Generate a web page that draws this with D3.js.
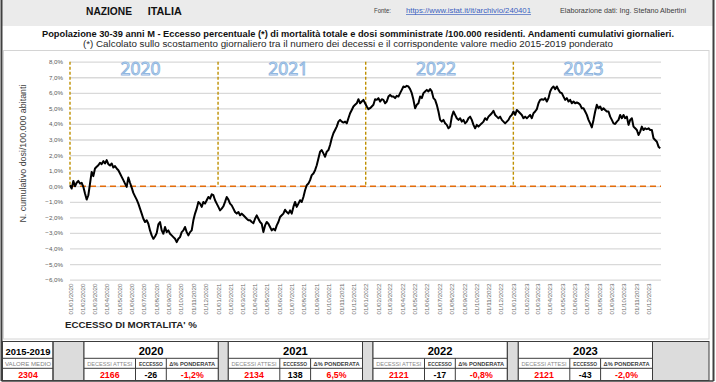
<!DOCTYPE html>
<html><head><meta charset="utf-8">
<script src="https://cdn.jsdelivr.net/npm/d3@7"></script>
<style>body{margin:0;background:#fff}svg{display:block}</style>
</head><body>
<svg id="c" width="716" height="382"></svg>
<script>
// ---------------- DATA ----------------
const yearLabels = ["2020", "2021", "2022", "2023"];
const yTickValues = [8, 7, 6, 5, 4, 3, 2, 1, 0, -1, -2, -3, -4, -5, -6];
const sampleStart = "2020-01-01";
const sampleEnd = "2023-12-30";
// cumulative excess mortality (%) sampled evenly between sampleStart and sampleEnd
const values2020 = [
  0.06,-0.15,0.34,0.00,0.22,0.34,0.17,0.22,-0.04,-0.47,
  -0.86,-0.58,0.17,0.92,0.65,1.14,1.25,1.35,1.51,1.42,
  1.61,1.46,1.68,1.42,1.33,1.46,1.20,1.29,1.14,1.03,
  0.82,0.60,0.39,0.17,-0.04,0.56,0.22,-0.09,-0.43,-0.65,
  -0.86,-1.12,-1.44,-1.76,-2.09,-2.30,-2.19,-2.41,-2.84,-3.16,
  -3.38,-3.23,-3.01,-2.45,-2.30,-2.84,-3.05,-2.62,-2.95,-2.84,
  -3.05,-3.16,-3.27,-3.38,-3.59,-3.38,-3.27,-2.95,-2.84,-2.62,
  -2.95,-3.16,-2.95,-2.84,-2.19,-1.76,-1.44,-1.01,-1.12,-1.33,
  -1.01,-1.12,-0.90,-0.69,-0.80,-0.52,-0.58,-0.90,-1.12,-1.33,
  -1.55,-1.44,-1.29,-1.01,-0.69,-0.86,-1.12,-1.23,-1.44,-1.66,
  -1.76,-1.66,-1.87,-1.76,-1.87,-1.98,-2.09,-2.19,-2.19,-2.30,
  -2.37,-2.09,-1.87,-2.09,-2.30
];
const values2021 = [
  -2.41,-2.95,-2.52,-2.30,-2.41,-2.62,-2.84,-2.73,-2.84,-2.52,
  -2.30,-1.98,-1.87,-1.76,-1.51,-1.66,-1.76,-1.55,-1.76,-1.33,
  -1.01,-1.33,-1.12,-0.90,-1.01,-0.69,-0.26,0.06,0.17,0.39,
  0.71,0.82,1.03,1.35,1.78,2.22,2.32,2.11,1.89,2.22,
  2.32,2.65,3.08,3.40,3.61,3.83,4.15,4.26,4.15,4.09,
  4.15,4.04,4.37,4.69,4.90,5.12,5.23,5.33,5.59,5.33,
  5.44,5.55,5.33,5.12,4.95,5.01,5.12,5.23,5.59,5.55,
  5.66,5.44,5.59,5.55,5.33,5.44,5.76,5.87,5.76,5.76,
  5.66,5.81,5.76,5.98,6.19,6.41,6.37,6.45,6.41,6.24,
  5.98,5.55,5.01,5.23,5.33,5.76,5.66,5.98,6.09,6.19,
  6.09,6.24,6.09,5.66,5.55,5.23,4.80,4.26,4.15,4.26,
  4.04,3.94,3.72,3.83
];
const values2023 = [
  4.47,4.80,4.58,4.37,4.26,4.37,4.15,4.26,4.04,4.15,
  4.37,4.47,4.26,3.94,3.72,3.94,3.83,3.94,4.04,4.15,
  4.37,4.26,4.47,4.58,4.69,4.84,4.58,4.47,4.37,4.47,
  4.26,4.15,4.04,4.15,4.26,4.47,4.58,4.80,4.58,4.90,
  4.80,4.69,4.58,4.37,4.47,4.37,4.47,4.58,4.37,4.69,
  4.80,4.95,5.33,5.55,5.59,5.55,5.66,5.44,5.66,6.09,
  6.30,6.41,6.24,6.41,6.19,6.02,5.98,5.76,5.55,5.66,
  5.44,5.55,5.33,5.44,5.33,5.38,5.33,5.23,5.01,5.01,
  4.80,4.58,4.26,4.04,3.78,4.26,4.80,5.23,5.01,5.12,
  4.90,5.01,4.90,4.80,4.80,4.47,4.26,4.04,4.00,4.15,
  4.26,4.58,4.37,4.58,4.37,4.47,3.94,4.26,4.37,3.83,
  3.72,3.61,3.29,3.51,3.83,3.61,3.72,3.66,3.72,3.61,
  3.61,3.08,2.97,2.86,2.54,2.43
];
const tableYears = ["2020", "2021", "2022", "2023"];
const decessiAttesi = ["2166", "2134", "2121", "2121"];
const eccesso = ["-26", "138", "-17", "-43"];
const deltaPonderata = ["-1,2%", "6,5%", "-0,8%", "-2,0%"];
const valoreMedio = "2304";

// ---------------- DRAW ----------------
const svg = d3.select("#c");
const F = "'Liberation Sans', Arial, sans-serif";
svg.append("rect").attr("width", 716).attr("height", 382).attr("fill", "#fff");

// header band
svg.append("rect").attr("x", 2).attr("y", 0).attr("width", 711).attr("height", 26).attr("fill", "#ebebeb");
// chart box
svg.append("rect").attr("x", 3.5).attr("y", 50.5).attr("width", 705.5).attr("height", 288.5)
  .attr("fill", "#fff").attr("stroke", "#d4d4d4").attr("stroke-width", 1);

// header texts
const t = (x, y, s, o = {}) => {
  const e = svg.append("text").attr("x", x).attr("y", y).text(s)
    .attr("font-family", o.family || F).attr("font-size", o.size || 8)
    .attr("font-weight", o.weight || "normal").attr("fill", o.fill || "#000")
    .attr("text-anchor", o.anchor || "start");
  if (o.len) e.attr("textLength", o.len).attr("lengthAdjust", "spacingAndGlyphs");
  if (o.deco) e.attr("text-decoration", o.deco);
  return e;
};
t(86, 14.5, "NAZIONE", {size: 11, weight: "bold", len: 46, fill: "#111"});
t(147.7, 14.5, "ITALIA", {size: 11, weight: "bold", len: 34, fill: "#111"});
t(374, 13, "Fonte:", {size: 6.8, fill: "#404040", len: 17});
t(406, 13, "https://www.istat.it/it/archivio/240401", {size: 6.8, fill: "#3a5fbf", len: 125, deco: "underline"});
t(560, 13, "Elaborazione dati: Ing. Stefano Albertini", {size: 6.8, fill: "#404040", len: 126});
t(42, 36.5, "Popolazione 30-39 anni M - Eccesso percentuale (*) di mortalità totale e dosi somministrate /100.000 residenti.  Andamenti cumulativi giornalieri.",
  {size: 9.3, weight: "bold", len: 632, fill: "#111"});
t(83, 46.7, "(*) Calcolato sullo scostamento giornaliero tra il numero dei decessi e il corrispondente valore medio 2015-2019 ponderato",
  {size: 8.4, len: 530, fill: "#262626"});

// scales
const parse = d3.timeParse("%Y-%m-%d");
const x = d3.scaleTime().domain([new Date(2020, 0, 1), new Date(2024, 0, 1)]).range([70, 661]);
const y = d3.scaleLinear().domain([-6, 8]).range([279.6, 61.7]);

// gridlines + y labels
const yAxis = d3.axisLeft(y).tickValues(yTickValues).tickSize(-(661 - 70)).tickPadding(6)
  .tickFormat(d => d3.format(".1f")(d).replace(".", ",") + "%");
const gy = svg.append("g").attr("transform", "translate(70,0)").call(yAxis);
gy.select(".domain").remove();
gy.selectAll("line").attr("stroke", "#d9d9d9").attr("stroke-width", 1.3);
gy.selectAll("text").attr("font-family", F).attr("font-size", 6.2).attr("fill", "#595959").attr("x", -7);

// x labels
const months = d3.timeMonth.range(new Date(2020, 0, 1), new Date(2024, 0, 1));
const xAxis = d3.axisBottom(x).tickValues(months).tickSize(0).tickFormat(d3.timeFormat("%d/%m/%Y"));
const gx = svg.append("g").attr("transform", "translate(0,280)").call(xAxis);
gx.select(".domain").remove();
gx.selectAll("text").attr("font-family", F).attr("font-size", 6).attr("fill", "#6a6a6a")
  .attr("textLength", 31).attr("lengthAdjust", "spacingAndGlyphs")
  .attr("transform", "rotate(-90)").attr("text-anchor", "end").attr("x", -3.5).attr("y", 0).attr("dy", "0.35em");

// axis titles
svg.append("text").attr("transform", `translate(25.5,${y(2.1)}) rotate(-90)`).attr("text-anchor", "middle")
  .attr("font-family", F).attr("font-size", 9).attr("fill", "#404040")
  .attr("textLength", 138).attr("lengthAdjust", "spacingAndGlyphs")
  .text("N. cumulativo dosi/100.000 abitanti");
t(65, 327.5, "ECCESSO DI MORTALITA' %", {size: 9.6, weight: "bold", len: 132, fill: "#222"});

// year separators (dashed, gold)
const yearStarts = yearLabels.map(s => new Date(+s, 0, 1));
svg.append("g").selectAll("line").data(yearStarts).join("line")
  .attr("x1", d => x(d)).attr("x2", d => x(d)).attr("y1", y(8)).attr("y2", y(0))
  .attr("stroke", "#bf9000").attr("stroke-width", 1.4).attr("stroke-dasharray", "3,2");

// zero line
svg.append("line").attr("x1", 70).attr("x2", 661).attr("y1", y(0)).attr("y2", y(0))
  .attr("stroke", "#e46c0a").attr("stroke-width", 1.4).attr("stroke-dasharray", "6,4");

// year labels
const yearLabelDates = yearLabels.map(s => new Date(+s, 6, 1));
svg.append("g").selectAll("text").data(yearLabels).join("text")
  .attr("x", (d, i) => x(yearLabelDates[i]) - 3).attr("y", 75)
  .attr("text-anchor", "middle").attr("font-family", "'Open Sans', sans-serif").attr("font-size", 17.5)
  .attr("fill", "#fff").attr("stroke", "#8fb6e0").attr("stroke-width", 1)
  .text(d => d);

// series
const values = values2020.concat(values2021, values2023);
const t0 = parse(sampleStart).getTime(), t1 = parse(sampleEnd).getTime();
const series = values.map((v, i) => ({date: new Date(t0 + (t1 - t0) * i / (values.length - 1)), v}));
svg.append("path").datum(series)
  .attr("d", d3.line().x(d => x(d.date)).y(d => y(d.v)))
  .attr("fill", "none").attr("stroke", "#000").attr("stroke-width", 2).attr("stroke-linejoin", "round");

// ---------------- TABLE ----------------
const r0 = 341.5, r1 = 358.3, r2 = 368.3, r3 = 380.5;
const groupX = [84, 228.3, 373, 518.3];
const subOff = [0, 51.5, 82.3, 134.2];
const grey = "#dcdcdc", bc = "#3c3c3c";
const tb = svg.append("g");
// grey fillers
[[53, 84], [218.2, 228.3], [362.5, 373], [507.5, 518.3], [652.5, 709]].forEach(([a, b]) =>
  tb.append("rect").attr("x", a).attr("y", r0).attr("width", b - a).attr("height", r3 - r0).attr("fill", grey)
    .attr("stroke", bc).attr("stroke-width", 1));
// first block
tb.append("rect").attr("x", 2.5).attr("y", r0).attr("width", 50.5).attr("height", r3 - r0)
  .attr("fill", "none").attr("stroke", bc).attr("stroke-width", 1);
[r1, r2].forEach(yy => tb.append("line").attr("x1", 2.5).attr("x2", 53).attr("y1", yy).attr("y2", yy).attr("stroke", bc));
const ct = (x, yy, s, size, weight, fill, len) => {
  const e = tb.append("text").attr("x", x).attr("y", yy).attr("text-anchor", "middle")
    .attr("font-family", F).attr("font-size", size).attr("font-weight", weight).attr("fill", fill).text(s);
  if (len) e.attr("textLength", len).attr("lengthAdjust", "spacingAndGlyphs");
};
ct(28, 355, "2015-2019", 9.4, "bold", "#000");
ct(28, 365.8, "VALORE MEDIO", 6, "normal", "#7f7f7f", 46);
ct(28, 378, valoreMedio, 8.8, "bold", "#ff0000");

tableYears.forEach((yr, i) => {
  const gx0 = groupX[i];
  const xs = subOff.map(o => gx0 + o);
  tb.append("rect").attr("x", xs[0]).attr("y", r0).attr("width", xs[3] - xs[0]).attr("height", r3 - r0)
    .attr("fill", "#fff").attr("stroke", bc).attr("stroke-width", 1);
  [r1, r2].forEach(yy => tb.append("line").attr("x1", xs[0]).attr("x2", xs[3]).attr("y1", yy).attr("y2", yy).attr("stroke", bc));
  [xs[1], xs[2]].forEach(xx => tb.append("line").attr("x1", xx).attr("x2", xx).attr("y1", r1).attr("y2", r3).attr("stroke", bc));
  ct((xs[0] + xs[3]) / 2, 355, yr, 11.2, "bold", "#000");
  ct((xs[0] + xs[1]) / 2, 365.8, "DECESSI ATTESI", 5.6, "normal", "#8a8a8a", 45);
  ct((xs[1] + xs[2]) / 2, 365.8, "ECCESSO", 5.6, "bold", "#404040", 24);
  ct((xs[2] + xs[3]) / 2, 365.8, "Δ% PONDERATA", 5.6, "bold", "#404040", 46);
  ct((xs[0] + xs[1]) / 2, 378, decessiAttesi[i], 8.8, "bold", "#ff0000");
  ct((xs[1] + xs[2]) / 2, 378, eccesso[i], 8.8, "bold", "#000");
  ct((xs[2] + xs[3]) / 2, 378, deltaPonderata[i], 8.8, "bold", "#ff0000");
});

// outer frame
svg.append("line").attr("x1", 1.5).attr("x2", 1.5).attr("y1", 0).attr("y2", 381).attr("stroke", "#404040").attr("stroke-width", 2);
svg.append("line").attr("x1", 713.5).attr("x2", 713.5).attr("y1", 0).attr("y2", 381).attr("stroke", "#404040").attr("stroke-width", 2);
svg.append("line").attr("x1", 1.5).attr("x2", 713.5).attr("y1", 381).attr("y2", 381).attr("stroke", "#404040").attr("stroke-width", 1.5);
</script>
</body></html>
